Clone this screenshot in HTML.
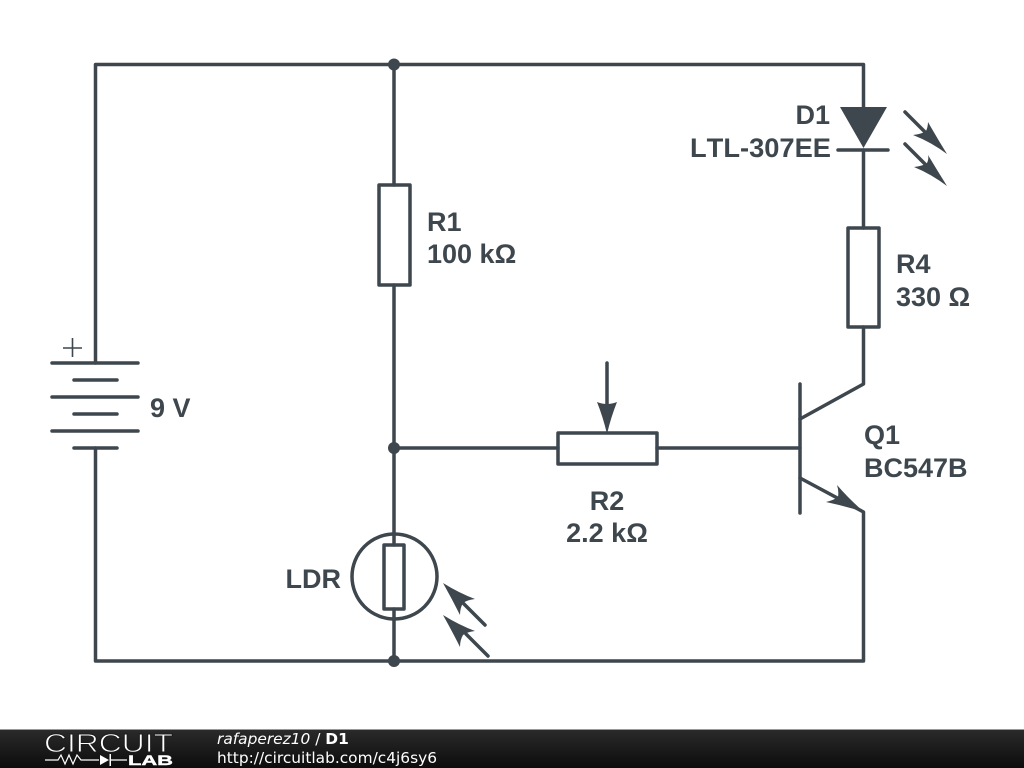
<!DOCTYPE html>
<html><head><meta charset="utf-8"><style>
html,body{margin:0;padding:0;background:#fff}
svg{display:block}
.t{font-family:"Liberation Sans",sans-serif;font-weight:bold;font-size:27px;fill:#3d474d;font-kerning:none}
.f{font-family:"DejaVu Sans",sans-serif;font-size:15.4px;fill:#fff}
</style></head><body>
<svg width="1024" height="768" viewBox="0 0 1024 768" xmlns="http://www.w3.org/2000/svg">
<defs><linearGradient id="g" x1="0" y1="0" x2="0" y2="1"><stop offset="0" stop-color="#2b2b2b"/><stop offset="1" stop-color="#0c0c0c"/></linearGradient></defs>
<rect width="1024" height="768" fill="#fff"/>
<g fill="none" stroke="#3d474d" stroke-width="3.5" stroke-linecap="round" stroke-linejoin="round">
<path d="M95.5 363V64.5H863.5V108M863.5 150V228M863.5 327V384L800 419M95.5 448V661H863.5V512L800 478"/>
<path d="M394 64.5V185M394 285V533M394 620V661M394 448H558M657 448H800"/>
<path d="M800 384V513"/>
<path d="M52 363H138M74 380H117M52 397H138M74 414H117M52 431H138M74 448H117"/>
<path d="M838 150H888"/>
<rect x="379" y="185" width="31" height="100"/>
<rect x="848" y="228" width="31" height="99"/>
<rect x="558" y="433" width="99" height="31"/>
<rect x="384" y="545" width="20" height="64"/>
<circle cx="394.500" cy="576.500" r="42.500"/>
<path d="M394 533V545M394 609V620"/>
<path d="M607 363V425"/>
<path d="M905 112L925 132M905 144L925 164M485 625L463 603M488 656L466 634"/>
</g>
<path d="M63 348H82M72.500 338V357" stroke="#3d474d" stroke-width="1.600" fill="none"/>
<g fill="#3d474d">
<circle cx="394" cy="64.500" r="6"/><circle cx="394" cy="448" r="6"/><circle cx="394" cy="661" r="6"/>
<path d="M840 107H887L863.500 148Z"/>
<path d="M597 402Q607 406 617 402Q611 417 607 434Q603 417 597 402Z"/>
<path d="M947 154Q931 142 913 135Q922 134 926 131Q928 127 928 122Q937 138 947 154Z"/>
<path d="M947 186Q931 174 914 167Q923 166 927 163Q929 159 928 155Q937 170 947 186Z"/>
<path d="M443 583Q459 593 475 599Q467 600 463 603Q460 608 460 615Q452 599 443 583Z"/>
<path d="M443 615Q459 625 475 631Q467 632 463 635Q460 640 460 647Q452 631 443 615Z"/>
<path d="M864 512Q845 506 826 502Q834 500 838 497Q839 491 837 485Q849 499 864 512Z"/>
</g>
<text class="t" x="150" y="417">9 V</text>
<text class="t" x="427" y="231">R1</text>
<text class="t" x="427" y="263">100 kΩ</text>
<text class="t" x="830" y="124" text-anchor="end">D1</text>
<text class="t" x="690" y="157" textLength="141" lengthAdjust="spacingAndGlyphs">LTL-307EE</text>
<text class="t" x="896" y="273">R4</text>
<text class="t" x="896" y="306">330 Ω</text>
<text class="t" x="864" y="444">Q1</text>
<text class="t" x="864" y="477">BC547B</text>
<text class="t" x="607" y="510" text-anchor="middle">R2</text>
<text class="t" x="607" y="542" text-anchor="middle">2.2 kΩ</text>
<text class="t" x="341" y="588" text-anchor="end">LDR</text>
<rect y="729" width="1024" height="39" fill="url(#g)"/>
<rect y="729" width="1024" height="1" fill="#999"/>
<text x="44" y="752" font-family="Liberation Sans,sans-serif" font-size="26" fill="#fff" stroke="#1c1c1c" stroke-width=".9" textLength="129" lengthAdjust="spacingAndGlyphs">CIRCUIT</text>
<path d="M45 760H58L61 755L65 764L69 755L73 764L77 755L81 760H99M110 760H127" stroke="#fff" stroke-width="1.200" fill="none"/>
<path d="M100 755L109 760L100 765Z M109.500 754H111V766H109.500Z" fill="#fff"/>
<text x="128" y="765" font-family="Liberation Sans,sans-serif" font-weight="bold" font-size="14" fill="#fff" stroke="#fff" stroke-width=".4" textLength="45" lengthAdjust="spacingAndGlyphs">LAB</text>
<text class="f" x="217" y="744" font-style="italic">rafaperez10 <tspan font-style="normal">/</tspan> <tspan font-weight="bold" font-style="normal">D1</tspan></text>
<text class="f" x="217" y="763" textLength="220" lengthAdjust="spacingAndGlyphs">http://circuitlab.com/c4j6sy6</text>
</svg>
</body></html>
